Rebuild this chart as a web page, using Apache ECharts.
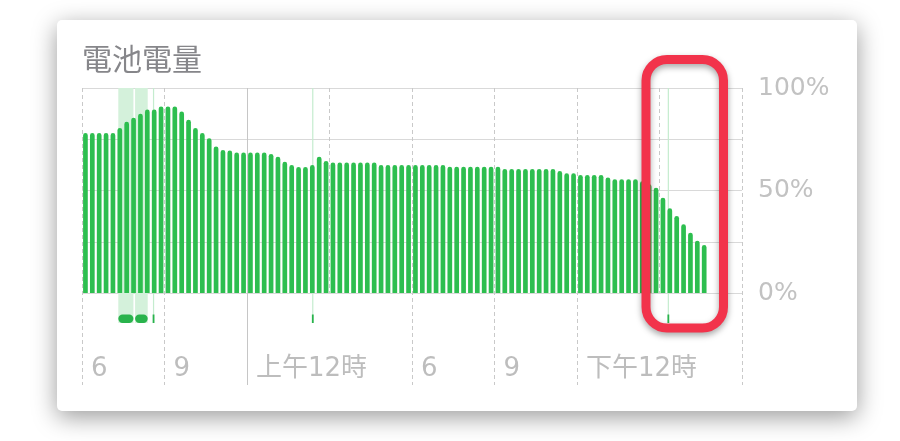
<!DOCTYPE html>
<html>
<head>
<meta charset="utf-8">
<script src="https://cdn.jsdelivr.net/npm/echarts@6/dist/echarts.min.js"></script>
<style>
  html, body { margin: 0; padding: 0; background: #ffffff; }
  #chart { width: 900px; height: 441px; }
</style>
</head>
<body>
<div id="chart"></div>
<script>
// ---- data ----
const titleText = '電池電量';
// 15-minute battery level readings (%) starting at 6 PM
const batteryLevel = [
  78, 78, 78, 78, 78, 80.5, 83.5, 85.5, 87.5, 89.5,
  89.5, 91, 91, 91, 88.5, 84.5, 80.5, 78, 75.5, 71.5,
  69.8, 69.5, 68.5, 68.5, 68.5, 68.5, 68.5, 67.8, 66.5, 64,
  62.4, 61.5, 61.5, 62.4, 66.5, 64.4, 63.6, 63.6, 63.6, 63.6,
  63.6, 63.6, 63.6, 62.4, 62.4, 62.4, 62.4, 62.4, 62.4, 62.4,
  62.4, 62.4, 62.4, 61.6, 61.6, 61.6, 61.6, 61.6, 61.6, 61.6,
  61.6, 60.5, 60.5, 60.5, 60.5, 60.5, 60.5, 60.5, 60.5, 59.5,
  58.4, 58.4, 57.6, 57.6, 57.6, 57.6, 56.4, 55.5, 55.5, 55.5,
  55.5, 54.5, 53, 51.4, 46.5, 41.3, 37.6, 33.5, 29.4, 25.5,
  23.4
];
const slotCount = 96; // 24 h of 15-minute slots
// 3-hour ticks from 6 PM to 6 PM next day
const hourTicks = ['18:00', '21:00', '00:00', '03:00', '06:00', '09:00', '12:00', '15:00', '18:00+1'];
const tickLabels = ['6', '9', '上午12時', '', '6', '9', '下午12時', '', ''];
const tickLong = [true, true, false, false, true, true, true, false, true]; // dashed lines reaching labels
const midnightTick = '00:00';
// charging periods, hours after 6 PM
const chargeStart = [1.32, 1.93, 2.58, 8.37, 21.3];
const chargeEnd   = [1.87, 2.39, 2.62, 8.41, 21.34];
const yTicks = [0, 50, 100];

// ---- build ----
const slotLabels = [];
for (let i = 0; i < slotCount; i++) {
  const m = 18 * 60 + i * 15;
  const h = Math.floor(m / 60) % 24, mm = m % 60;
  slotLabels.push((h < 10 ? '0' : '') + h + ':' + (mm < 10 ? '0' : '') + mm);
}
const chargeData = chargeStart.map((s, i) => [s, chargeEnd[i]]);

const GL = 82, GR = 158, GT = 88;
const grayDash = '#c9c9c9';
const FONT = '"DejaVu Sans", "Noto Sans CJK TC", sans-serif';

const chart = echarts.init(document.getElementById('chart'), null, { renderer: 'canvas' });

chart.setOption({
  backgroundColor: '#ffffff',
  animation: false,
  graphic: [
    {
      type: 'rect', z: -5,
      shape: { x: 57, y: 20, width: 800, height: 391, r: 5 },
      style: { fill: '#ffffff', shadowBlur: 24, shadowColor: 'rgba(0,0,0,0.4)', shadowOffsetY: 6 }
    },
    {
      type: 'text', z: 10, left: 82, top: 44,
      style: { text: titleText, fill: '#86868a', font: '30px "Noto Sans CJK TC", sans-serif' }
    },
    {
      type: 'rect', z: 100,
      shape: { x: 646, y: 59.5, width: 77.5, height: 268.5, r: 21 },
      style: { fill: 'none', stroke: '#f2334b', lineWidth: 9, shadowBlur: 6, shadowColor: 'rgba(0,0,0,0.35)', shadowOffsetY: 3 }
    }
  ],
  grid: [
    { left: GL, right: GR, top: GT, bottom: 148 },   // bars
    { left: GL, right: GR, top: GT, bottom: 118 },   // charging
    { left: GL, right: GR, top: GT, bottom: 56 }     // long time lines + labels
  ],
  xAxis: [
    {
      gridIndex: 0, type: 'category', data: slotLabels, boundaryGap: true,
      axisLine: { show: false }, axisTick: { show: false }, axisLabel: { show: false }, splitLine: { show: false }
    },
    {
      gridIndex: 1, type: 'value', min: 0, max: 24, show: false
    },
    {
      gridIndex: 2, type: 'category', data: hourTicks, boundaryGap: false,
      axisLine: { show: false }, axisTick: { show: false },
      axisLabel: {
        inside: true, interval: 0, margin: 16, align: 'left', verticalAlign: 'middle',
        padding: [0, 0, 0, 9],
        formatter: (v, i) => tickLabels[i],
        color: '#bdbdbd', fontSize: 26, fontFamily: FONT
      },
      splitLine: {
        show: true, interval: (i) => tickLong[i],
        lineStyle: { color: grayDash, type: [4, 3], width: 1 }
      }
    },
    {
      gridIndex: 0, type: 'category', data: hourTicks, boundaryGap: false,
      axisLine: { show: false }, axisTick: { show: false }, axisLabel: { show: false },
      splitLine: { show: true, interval: 0, lineStyle: { color: grayDash, type: [4, 3], width: 1 } }
    }
  ],
  yAxis: [
    {
      gridIndex: 0, type: 'value', position: 'right', min: 0, max: 100, interval: 25,
      axisLine: { show: false }, axisTick: { show: false },
      axisLabel: {
        margin: 16, color: '#c2c2c2', fontSize: 25, fontFamily: FONT,
        formatter: (v) => yTicks.indexOf(v) >= 0 ? v + '%' : ''
      },
      splitLine: { show: true, lineStyle: { color: '#d9d9d9', width: 1 } }
    },
    { gridIndex: 1, type: 'value', min: 0, max: 1, show: false },
    { gridIndex: 2, type: 'value', min: 0, max: 1, show: false }
  ],
  series: [
    {
      type: 'custom', xAxisIndex: 1, yAxisIndex: 1, z: 1, silent: true,
      data: chargeData,
      renderItem: function (params, api) {
        const s = api.value(0), e = api.value(1);
        const p0 = api.coord([s, 1]);
        const p1 = api.coord([e, 0]);
        const x0 = p0[0];
        const w = Math.max(p1[0] - x0, 1.2);
        const top = p0[1], bottom = p1[1];
        const wide = w > 4;
        return {
          type: 'group',
          children: [
            { type: 'rect', shape: { x: x0, y: top, width: w, height: bottom - top },
              style: { fill: wide ? '#d4f1db' : '#c4ecce' } },
            { type: 'rect',
              shape: { x: wide ? x0 : x0 + w / 2 - 0.9, y: bottom - 8.5, width: wide ? w : 1.8, height: 8.5, r: wide ? 4.2 : 0 },
              style: { fill: '#29b34c' } }
          ]
        };
      }
    },
    {
      type: 'bar', xAxisIndex: 0, yAxisIndex: 0, z: 2,
      data: batteryLevel, barWidth: 4.7,
      itemStyle: { color: '#2dbe4f', borderRadius: [2.35, 2.35, 0, 0] }
    },
    {
      type: 'line', xAxisIndex: 2, yAxisIndex: 2, data: hourTicks.map(() => null), silent: true,
      markLine: {
        silent: true, symbol: 'none', label: { show: false },
        lineStyle: { type: 'solid', color: '#c6c6c6', width: 1 },
        data: [{ xAxis: midnightTick }]
      }
    }
  ]
});
</script>
</body>
</html>
